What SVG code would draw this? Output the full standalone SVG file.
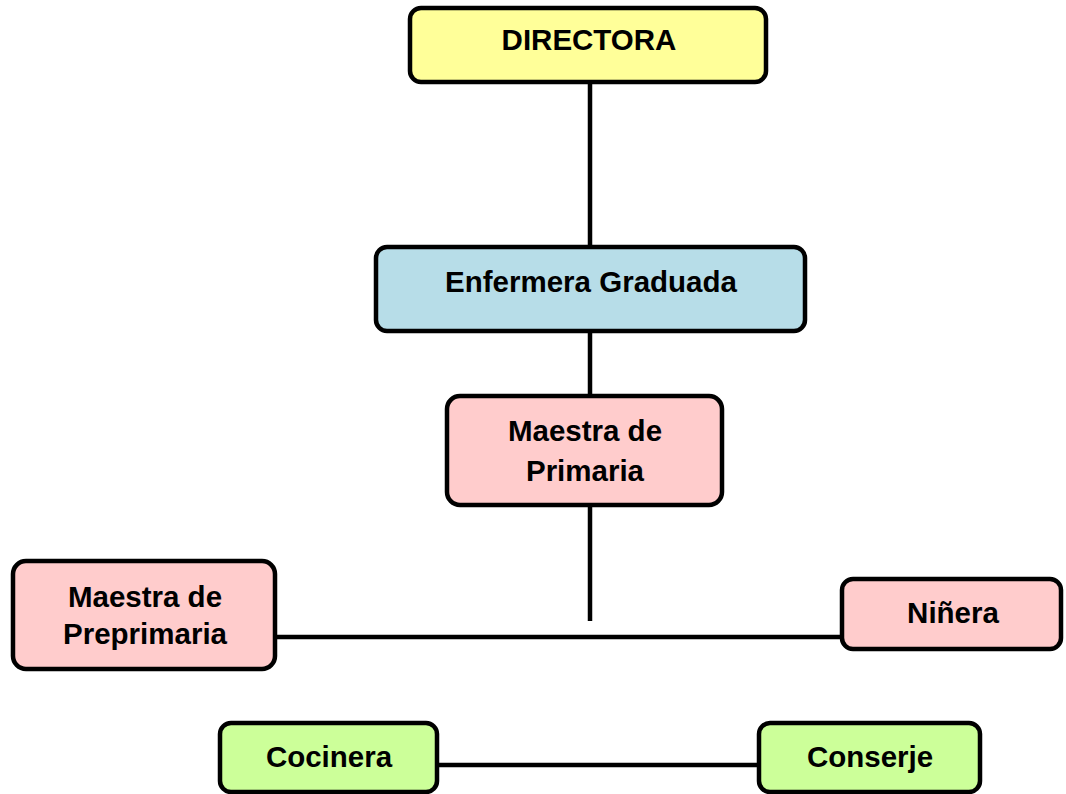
<svg xmlns="http://www.w3.org/2000/svg" width="1066" height="794" viewBox="0 0 1066 794">
<style>
.box{stroke:#000;stroke-width:4.5}
.t{font-family:"Liberation Sans",Arial,sans-serif;font-weight:bold;font-size:29.5px;fill:#000;text-anchor:middle}
.c{stroke:#000;stroke-width:4.5;fill:none}
</style>
<rect width="1066" height="794" fill="#fff"/>
<g id="connectors">
<line class="c" x1="590" y1="82" x2="590" y2="247"/>
<line class="c" x1="590" y1="331" x2="590" y2="396"/>
<line class="c" x1="590" y1="505" x2="590" y2="621"/>
<line class="c" x1="275" y1="637" x2="842" y2="637"/>
<line class="c" x1="437" y1="765" x2="759" y2="765"/>
</g>
<g id="directora">
<rect class="box" x="410" y="8" width="356" height="74" rx="11" fill="#FFFF99"/>
<text class="t" x="589" y="50">DIRECTORA</text>
</g>
<g id="enfermera">
<rect class="box" x="376" y="247" width="429" height="84" rx="11" fill="#B7DDE8"/>
<text class="t" x="591" y="292">Enfermera Graduada</text>
</g>
<g id="primaria">
<rect class="box" x="447" y="396" width="275" height="109" rx="13" fill="#FFCCCC"/>
<text class="t" x="585" y="441">Maestra de</text>
<text class="t" x="585" y="481">Primaria</text>
</g>
<g id="preprimaria">
<rect class="box" x="13" y="561" width="262" height="108" rx="13" fill="#FFCCCC"/>
<text class="t" x="145" y="607">Maestra de</text>
<text class="t" x="145" y="644">Preprimaria</text>
</g>
<g id="ninera">
<rect class="box" x="842" y="579" width="219" height="70" rx="11" fill="#FFCCCC"/>
<text class="t" x="953" y="623">Niñera</text>
</g>
<g id="cocinera">
<rect class="box" x="220" y="723" width="217" height="69" rx="11" fill="#CCFF99"/>
<text class="t" x="329" y="767">Cocinera</text>
</g>
<g id="conserje">
<rect class="box" x="759" y="723" width="221" height="69" rx="11" fill="#CCFF99"/>
<text class="t" x="870" y="767">Conserje</text>
</g>
</svg>
